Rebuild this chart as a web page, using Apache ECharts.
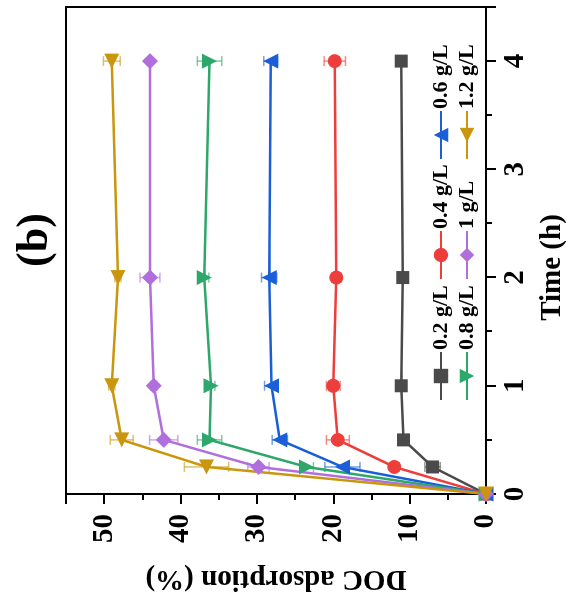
<!DOCTYPE html>
<html>
<head>
<meta charset="utf-8">
<script src="https://cdn.jsdelivr.net/npm/echarts@6/dist/echarts.min.js"></script>
<style>
  html, body { margin: 0; padding: 0; background: #fff; overflow: hidden; }
  #wrap { width: 572px; height: 606px; position: relative; overflow: hidden; background: #fff; }
  /* the figure is laid out landscape and turned a quarter turn counter-clockwise */
  #chart { width: 606px; height: 572px; position: absolute; left: 0; top: 0;
           transform-origin: 0 0; transform: translate(0, 606px) rotate(-90deg); }
</style>
</head>
<body>
<div id="wrap"><div id="chart"></div></div>
<script>
// Sampling times (h)
const times = [0, 0.25, 0.5, 1, 2, 4];

// Adsorbent dose labels
const doseNames = ['0.2 g/L', '0.4 g/L', '0.6 g/L', '0.8 g/L', '1 g/L', '1.2 g/L'];

// DOC adsorption (%) for each dose
const doc02 = [0, 7.0, 10.8, 11.1, 10.9, 11.1];
const doc04 = [0, 12.0, 19.4, 20.0, 19.6, 19.8];
const doc06 = [0, 18.8, 27.0, 28.1, 28.4, 28.2];
const doc08 = [0, 23.5, 36.2, 36.0, 36.9, 36.2];
const doc10 = [0, 29.8, 42.2, 43.5, 44.0, 44.0];
const doc12 = [0, 36.6, 47.7, 49.0, 48.2, 49.0];

// Standard deviations (%)
const err02 = [0, 1.0, 0.6, 0.4, 0.4, 0.4];
const err04 = [0, 0.4, 1.5, 0.9, 0.6, 1.4];
const err06 = [0, 2.3, 1.0, 0.9, 1.0, 0.9];
const err08 = [0, 0.9, 1.6, 0.5, 0.6, 1.6];
const err10 = [0, 1.4, 1.85, 0.4, 1.3, 0.3];
const err12 = [0, 2.9, 1.5, 0.4, 0.4, 1.1];

// Tick values on the axes
const timeTicks = { min: 0, max: 4.5, interval: 1 };
const docTicks = { min: 0, max: 55, interval: 10 };

const FONT = '"Liberation Serif", "Times New Roman", serif';

const seriesDefs = [
  { name: doseNames[0], values: doc02, errs: err02, color: '#4a4a4a', symbol: 'rect', rotate: 0, size: 13 },
  { name: doseNames[1], values: doc04, errs: err04, color: '#ee3e3b', symbol: 'circle', rotate: 0, size: 14 },
  { name: doseNames[2], values: doc06, errs: err06, color: '#1b5fd8', symbol: 'triangle', rotate: 0, size: 15 },
  { name: doseNames[3], values: doc08, errs: err08, color: '#2ea76a', symbol: 'triangle', rotate: 180, size: 15 },
  { name: doseNames[4], values: doc10, errs: err10, color: '#b06fdc', symbol: 'diamond', rotate: 0, size: 16 },
  { name: doseNames[5], values: doc12, errs: err12, color: '#c9960d', symbol: 'triangle', rotate: 90, size: 15 }
];

function errorBarItem(params, api) {
  const t = api.value(0), v = api.value(1), e = api.value(2);
  if (!e) return null;
  const lo = api.coord([t, v - e]);
  const hi = api.coord([t, v + e]);
  const cap = 5;
  const style = { stroke: api.visual('color'), lineWidth: 1.5, opacity: 0.6 };
  return {
    type: 'group',
    children: [
      { type: 'line', shape: { x1: lo[0], y1: lo[1], x2: hi[0], y2: hi[1] }, style },
      { type: 'line', shape: { x1: lo[0] - cap, y1: lo[1], x2: lo[0] + cap, y2: lo[1] }, style },
      { type: 'line', shape: { x1: hi[0] - cap, y1: hi[1], x2: hi[0] + cap, y2: hi[1] }, style }
    ]
  };
}

const series = [];
seriesDefs.forEach(d => {
  series.push({
    name: d.name + ' sd',
    type: 'custom',
    renderItem: errorBarItem,
    itemStyle: { color: d.color },
    data: times.map((t, i) => [t, d.values[i], d.errs[i]]),
    z: 2
  });
});
seriesDefs.forEach(d => {
  series.push({
    name: d.name,
    type: 'line',
    data: times.map((t, i) => [t, d.values[i]]),
    symbol: d.symbol,
    symbolRotate: d.rotate,
    symbolSize: d.size,
    showAllSymbol: true,
    lineStyle: { color: d.color, width: 2.5 },
    itemStyle: { color: d.color },
    z: 3
  });
});

function legendCol(names, left) {
  return {
    data: names,
    orient: 'vertical',
    left: left,
    top: 430,
    padding: 0,
    itemWidth: 48,
    itemHeight: 18,
    itemGap: 4,
    selectedMode: false,
    symbolRotate: 'inherit',
    textStyle: { fontFamily: FONT, fontWeight: 'bold', fontSize: 22, lineHeight: 22, color: '#000', padding: [0, 0, 0, -3] }
  };
}

const axisCommon = {
  type: 'value',
  axisLine: { show: true, onZero: false, lineStyle: { color: '#000', width: 2 } },
  axisTick: { show: true, inside: false, length: 10, lineStyle: { color: '#000', width: 2 } },
  minorTick: { show: true, splitNumber: 2, length: 6, lineStyle: { color: '#000', width: 2 } },
  splitLine: { show: false },
  minorSplitLine: { show: false }
};

const chart = echarts.init(document.getElementById('chart'), null, { renderer: 'canvas' });
chart.setOption({
  backgroundColor: '#fff',
  animation: false,
  grid: { left: 112, right: 7, top: 66, bottom: 85, show: true, borderColor: '#000', borderWidth: 2, backgroundColor: 'transparent' },
  graphic: [{
    type: 'text',
    x: 366, y: 36,
    style: { text: '(b)', font: 'bold 44px ' + FONT, fill: '#000', align: 'center', verticalAlign: 'middle' }
  }],
  legend: [
    legendCol([doseNames[0], doseNames[3]], 205),
    legendCol([doseNames[1], doseNames[4]], 326),
    legendCol([doseNames[2], doseNames[5]], 446)
  ],
  xAxis: Object.assign({}, axisCommon, {
    min: timeTicks.min, max: timeTicks.max, interval: timeTicks.interval,
    position: 'bottom',
    name: 'Time (h)',
    nameLocation: 'middle',
    nameGap: 52,
    nameTextStyle: { fontFamily: FONT, fontWeight: 'bold', fontSize: 29, color: '#000', padding: [0, 34, 0, 0] },
    axisLabel: { showMaxLabel: false, margin: 15, fontFamily: FONT, fontWeight: 'bold', fontSize: 29, color: '#000' }
  }),
  yAxis: Object.assign({}, axisCommon, {
    min: docTicks.min, max: docTicks.max, interval: docTicks.interval,
    position: 'left',
    name: 'DOC adsorption (%)',
    nameLocation: 'middle',
    nameGap: 70,
    nameTextStyle: { fontFamily: FONT, fontWeight: 'bold', fontSize: 29, color: '#000' },
    axisLabel: { showMaxLabel: false, margin: 20, fontFamily: FONT, fontWeight: 'bold', fontSize: 29, color: '#000' }
  }),
  series: series
});
</script>
</body>
</html>
